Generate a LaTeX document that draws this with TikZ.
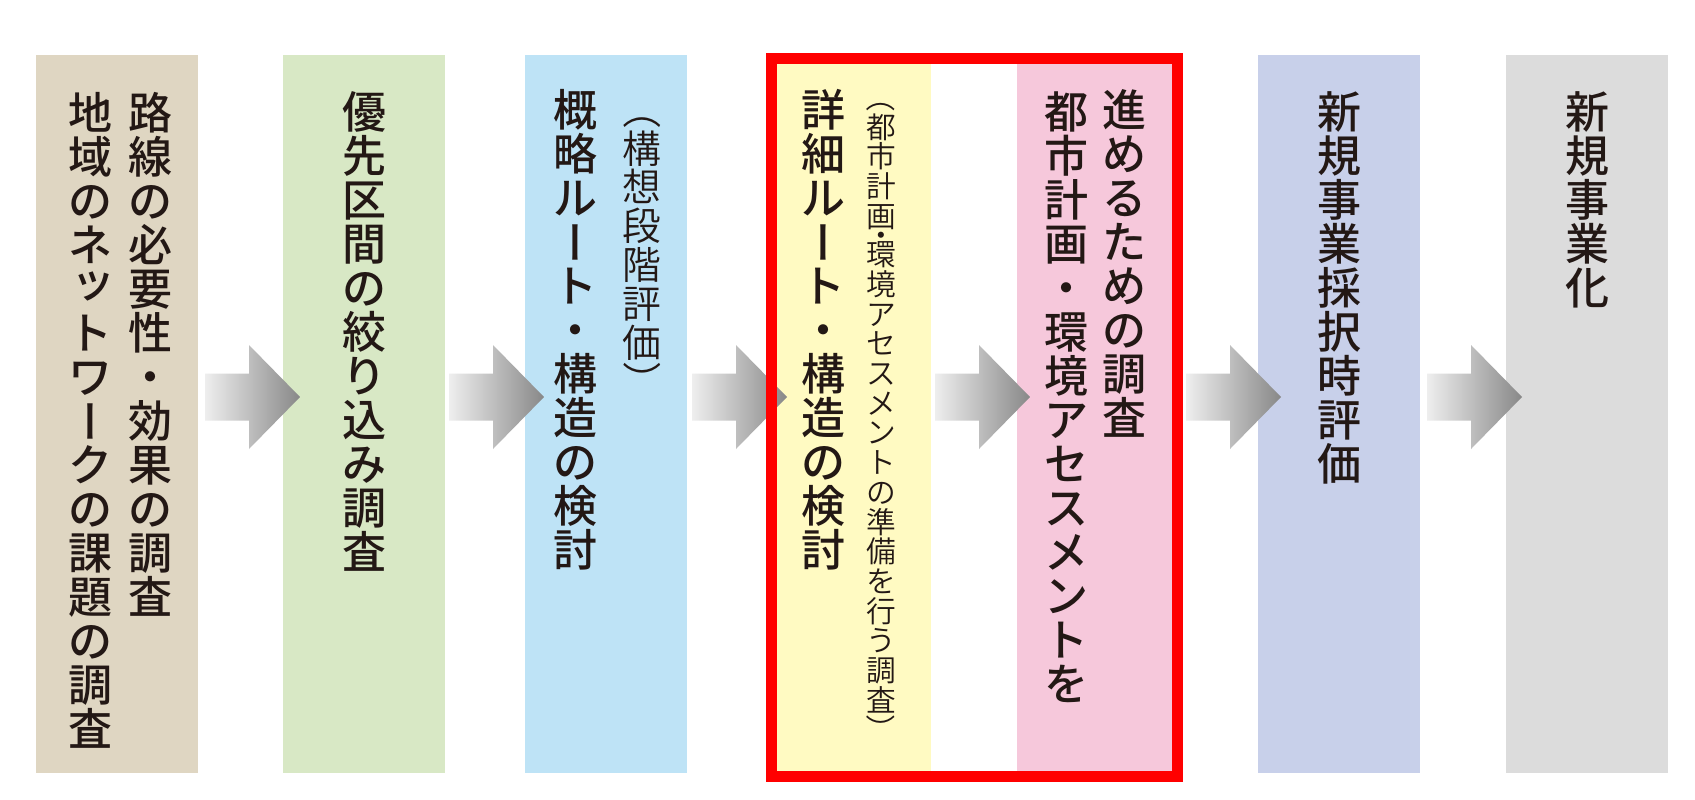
\documentclass[tikz,border=0pt]{standalone}
\usepackage{fontspec}
\usepackage{graphicx}
\IfFontExistsTF{Noto Sans CJK JP Medium}
  {\newfontfamily\jpb{Noto Sans CJK JP Medium}}
  {\newfontfamily\jpbase{Noto Sans CJK JP}\newcommand\jpb{\jpbase\bfseries}}
\IfFontExistsTF{Noto Sans CJK JP DemiLight}
  {\newfontfamily\jpl{Noto Sans CJK JP DemiLight}}
  {\newfontfamily\jpl{Noto Sans CJK JP}}
\definecolor{cTan}{HTML}{DFD6C2}
\definecolor{cGreen}{HTML}{D8E8C5}
\definecolor{cBlue}{HTML}{BEE3F6}
\definecolor{cYellow}{HTML}{FFFAC2}
\definecolor{cPink}{HTML}{F6C8DB}
\definecolor{cLav}{HTML}{C8D0EA}
\definecolor{cGray}{HTML}{DCDCDC}
\definecolor{ink}{HTML}{231815}
\definecolor{arrL}{HTML}{EEEEEE}
\definecolor{arrR}{HTML}{888888}
\definecolor{frameRed}{HTML}{FF0000}
% ---- vertical (tategaki) stacking of characters ----
\newlength\vp
\def\vstrut{\vrule height .88\vp depth .12\vp width 0pt\relax}
\def\vnorm#1{\hbox to\vp{\hss\vstrut#1\hss}}
\def\vcellbox#1{\hbox to\vp{\hss\lower.12\vp\vbox to\vp{\vss\hbox{#1}\vss}\hss}}
\def\vrot#1{\vcellbox{\rotatebox[origin=c]{-90}{\hbox{\vstrut#1}}}}
\def\vsm#1{\hbox to\vp{\hss\vstrut\kern.16\vp\raise.2\vp\hbox{#1}\hss}}
\def\hdot{・}
\def\vqdot{\setbox0\hbox to\vp{\hss\lower.38\vp\hbox{・}\hss}\ht0=.15\vp \dp0=.15\vp \box0 }
\def\vrow#1{%
 \ifx#1ー\vrot{#1}\else
 \ifx#1（\vrot{#1}\else
 \ifx#1）\vrot{#1}\else
 \ifx#1ッ\vsm{#1}\else
 \ifx#1\hdot\vqdot\else
 \vnorm{#1}\fi\fi\fi\fi\fi}
\def\vloop#1{\ifx#1\relax\else\vrow{#1}\expandafter\vloop\fi}
\newcommand\vcol[1]{\vbox{\offinterlineskip\vloop#1\relax}}
\newcommand\vtext[3]{\setlength\vp{#1pt}#2\fontsize{#1pt}{#1pt}\selectfont\vcol{#3}}
\newcommand\blockarrow[1]{\shade[arrowfill] (#1) ++(0,-23.5) -- ++(44,0) -- ++(0,-28.5) -- ++(51,52) -- ++(-51,52) -- ++(0,-28.5) -- ++(-44,0) -- cycle;}
\tikzset{
  box/.style={draw=none, inner sep=0pt, minimum width=162pt, minimum height=718pt},
  innerbox/.style={draw=none, inner sep=0pt, minimum height=707pt},
  arrowfill/.style={left color=arrL, right color=arrR},
  vt/.style={inner sep=0pt, anchor=north, text=ink},
}
\begin{document}
\begin{tikzpicture}[x=1pt,y=-1pt]
\useasboundingbox[fill=white] (0,0) rectangle (1695,800);
% boxes
\node[box,fill=cTan]   (b1) at (117,414) {};
\node[box,fill=cGreen] (b2) at (364,414) {};
\node[box,fill=cBlue]  (b3) at (606,414) {};
\node[innerbox,fill=cYellow,minimum width=154pt] (b4) at (854,417.5) {};
\node[innerbox,fill=cPink,minimum width=155pt]   (b5) at (1094.5,417.5) {};
\node[box,fill=cLav]   (b6) at (1339,414) {};
\node[box,fill=cGray]  (b7) at (1587,414) {};
% arrows
\coordinate (a1) at (205,397);
\coordinate (a2) at (449,397);
\coordinate (a3) at (692,397);
\coordinate (a4) at (935,397);
\coordinate (a5) at (1186,397);
\coordinate (a6) at (1427,397);
\blockarrow{a1}
\blockarrow{a2}
\blockarrow{a3}
\blockarrow{a4}
\blockarrow{a5}
\blockarrow{a6}
% red frame
\node[draw=frameRed, line width=11pt, inner sep=0pt, minimum width=406pt, minimum height=718pt] (frame) at (974.5,417.5) {};
% texts
\node[vt] (t1r) at (150,91) {\vtext{44}{\jpb}{路線の必要性・効果の調査}};
\node[vt] (t1l) at (90,91) {\vtext{44}{\jpb}{地域のネットワークの課題の調査}};
\node[vt] (t2) at (364,90) {\vtext{44}{\jpb}{優先区間の絞り込み調査}};
\node[vt] (t3) at (575.5,88) {\vtext{44}{\jpb}{概略ルート・構造の検討}};
\node[vt] (t3s) at (642,90) {\vtext{38.8}{\jpl}{（構想段階評価）}};
\node[vt] (t4) at (823,88) {\vtext{44}{\jpb}{詳細ルート・構造の検討}};
\node[vt] (t4s) at (881,82) {\vtext{29.7}{\jpl}{（都市計画\hdot 環境アセスメントの準備を行う調査）}};
\node[vt] (t5r) at (1124,88) {\vtext{44}{\jpb}{進めるための調査}};
\node[vt] (t5l) at (1066,90) {\vtext{44}{\jpb}{都市計画・環境アセスメントを}};
\node[vt] (t6) at (1339,90) {\vtext{44}{\jpb}{新規事業採択時評価}};
\node[vt] (t7) at (1587,90) {\vtext{44}{\jpb}{新規事業化}};
\end{tikzpicture}
\end{document}
